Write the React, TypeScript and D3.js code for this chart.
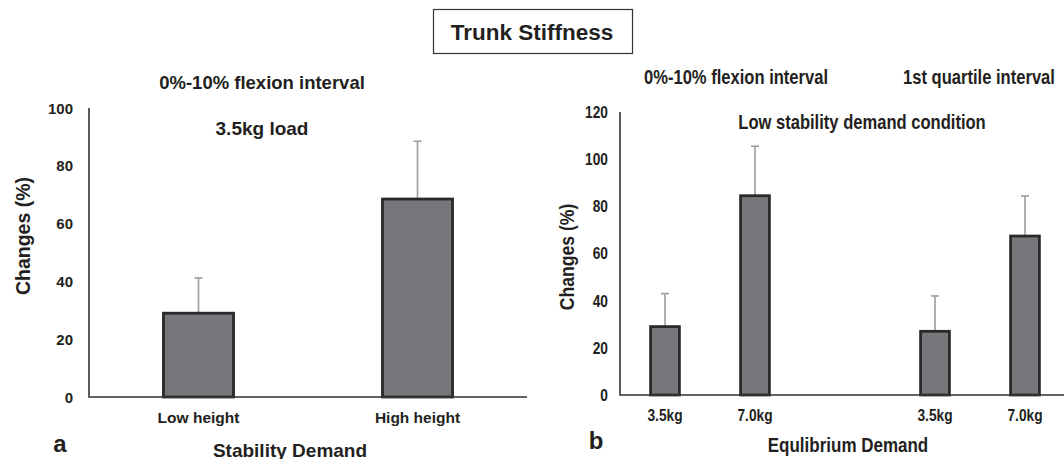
import React, { useRef, useEffect } from "react";
import * as d3 from "d3";

const W = 1064;
const H = 459;

// panel a: stability demand, 3.5kg load
const heightCategories = ["Low height", "High height"];
const heightChanges = [29, 68.5];
const heightSD = [12.2, 20];
const heightTicks = [0, 20, 40, 60, 80, 100];

// panel b: equilibrium demand, low stability condition
const intervalNames = ["0%-10% flexion interval", "1st quartile interval"];
const loadLabels = ["3.5kg", "7.0kg"];
const loadChanges = [29, 84.5, 27, 67.4];
const loadSD = [14, 21, 15, 17];
const loadTicks = [0, 20, 40, 60, 80, 100, 120];

const FONT = "'Liberation Sans', Arial, sans-serif";
const INK = "#231f20";
const BAR_FILL = "#76777b";
const BAR_STROKE = "#2a2a2a";
const ERR = "#9c9c9c";

type Bar = { key: string; label: string; value: number; sd: number };

function label(g: any, str: string, x: number, y: number, size: number, sx = 1, rotate = 0, anchor = "middle") {
    return g.append("text")
        .attr("transform", `translate(${x},${y}) rotate(${rotate}) scale(${sx},1)`)
        .attr("text-anchor", anchor)
        .attr("dominant-baseline", "central")
        .attr("font-family", FONT)
        .attr("font-weight", "bold")
        .attr("font-size", size)
        .attr("fill", INK)
        .text(str);
}

function drawPanel(g: any, o: {
    keys: string[]; bars: Bar[]; xRange: [number, number]; yRange: [number, number];
    yMax: number; ticks: number[]; tickRight: number; sx: number; tickSize: number; catSize: number;
}) {
    const x = d3.scaleBand().domain(o.keys).range(o.xRange).padding(0);
    const y = d3.scaleLinear().domain([0, o.yMax]).range(o.yRange);
    const bw = x.bandwidth() * 0.32;
    const cx = (k: string) => (x(k) as number) + x.bandwidth() / 2;

    // error bars (upper only)
    const err = g.append("g").attr("stroke", ERR).attr("stroke-width", 1.6);
    o.bars.forEach(b => {
        err.append("line").attr("x1", cx(b.key)).attr("x2", cx(b.key))
            .attr("y1", y(b.value)).attr("y2", y(b.value + b.sd));
        err.append("line").attr("x1", cx(b.key) - 4).attr("x2", cx(b.key) + 4)
            .attr("y1", y(b.value + b.sd)).attr("y2", y(b.value + b.sd));
    });

    g.append("g").selectAll("rect")
        .data(o.bars)
        .join("rect")
        .attr("x", (d: Bar) => cx(d.key) - bw / 2)
        .attr("y", (d: Bar) => y(d.value))
        .attr("width", bw)
        .attr("height", (d: Bar) => y(0) - y(d.value))
        .attr("fill", BAR_FILL)
        .attr("stroke", BAR_STROKE)
        .attr("stroke-width", 2.8);

    g.append("path")
        .attr("d", `M${o.xRange[0]},${o.yRange[1]}V${o.yRange[0]}H${o.xRange[1]}`)
        .attr("fill", "none")
        .attr("stroke", "#333")
        .attr("stroke-width", 1.6);

    o.ticks.forEach(t => label(g, String(t), o.tickRight, y(t), o.tickSize, o.sx, 0, "end"));
    o.bars.forEach(b => label(g, b.label, cx(b.key), y(0) + 20, o.catSize, o.sx));
}

export default function App() {
    const svgRef = useRef<SVGSVGElement>(null);

    useEffect(() => {
        const svg = d3.select(svgRef.current);
        const root = svg.append("g");

        // title box
        root.append("rect").attr("x", 433.5).attr("y", 9.5).attr("width", 199).attr("height", 44)
            .attr("fill", "white").attr("stroke", "#333").attr("stroke-width", 1.2);
        label(root, "Trunk Stiffness", 532, 32, 22.5);

        // panel a
        const a = root.append("g");
        drawPanel(a, {
            keys: heightCategories,
            bars: heightCategories.map((c, i) => ({ key: c, label: c, value: heightChanges[i], sd: heightSD[i] })),
            xRange: [89, 527], yRange: [397, 108], yMax: 100, ticks: heightTicks,
            tickRight: 73, sx: 1, tickSize: 15, catSize: 15.5,
        });
        label(a, "0%-10% flexion interval", 262, 82, 18.5);
        label(a, "3.5kg load", 262, 128, 19);
        label(a, "Changes (%)", 23, 236, 19.5, 1, -90);
        label(a, "Stability Demand", 290, 450, 19);
        label(a, "a", 60, 443, 24);

        // panel b
        const b = root.append("g");
        const keys = ["0-3.5", "0-7.0", "gap", "1-3.5", "1-7.0"];
        const bars: Bar[] = [];
        intervalNames.forEach((_, gi) => loadLabels.forEach((l, li) => {
            const i = gi * loadLabels.length + li;
            bars.push({ key: `${gi}-${l.slice(0, 3)}`, label: l, value: loadChanges[i], sd: loadSD[i] });
        }));
        drawPanel(b, {
            keys, bars,
            xRange: [620, 1070], yRange: [395, 112], yMax: 120, ticks: loadTicks,
            tickRight: 608, sx: 0.86, tickSize: 16, catSize: 16,
        });
        label(b, intervalNames[0], 736, 78, 19.5, 0.85);
        label(b, intervalNames[1], 979, 78, 19.5, 0.85);
        label(b, "Low stability demand condition", 862, 123, 19.5, 0.85);
        label(b, "Changes (%)", 567, 257, 20, 0.88, -90);
        label(b, "Equlibrium Demand", 848, 445, 20, 0.85);
        label(b, "b", 596, 440, 24);

        return () => { root.remove(); };
    });

    return (
        <svg ref={svgRef} width={W} height={H}
            style={{ position: "absolute", left: 0, top: 0, background: "white", display: "block" }} />
    );
}
